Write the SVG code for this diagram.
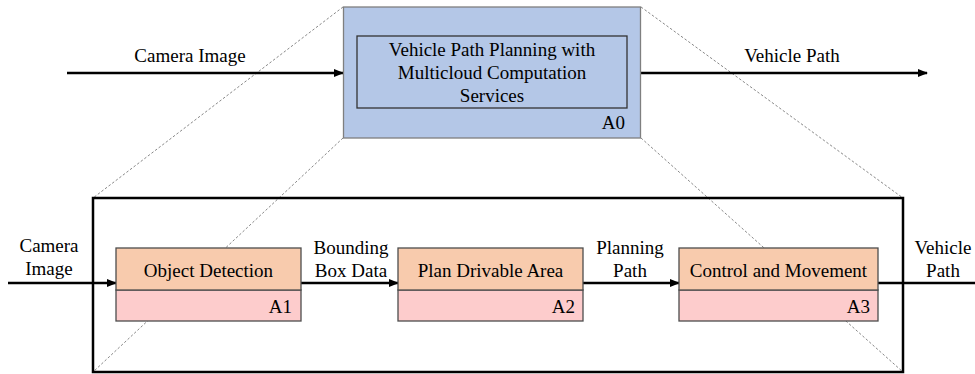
<svg xmlns="http://www.w3.org/2000/svg" width="975" height="374" viewBox="0 0 975 374" font-family="'Liberation Serif', 'DejaVu Serif', serif">
<defs>
<marker id="ah" markerWidth="10" markerHeight="8" refX="9" refY="4" orient="auto" markerUnits="userSpaceOnUse">
<path d="M0,0 L10,4 L0,8 Z" fill="#000"/>
</marker>
<style>
text{font-family:'Liberation Serif','DejaVu Serif',serif;font-size:19px;fill:#000}
.mid{text-anchor:middle}
.end{text-anchor:end}
.dash{stroke:#7a7a7a;stroke-width:0.9;stroke-dasharray:2.5,2;fill:none}
.conn{stroke:#000;stroke-width:2.5;fill:none}
.top{fill:#F8CBAD;stroke:#4d4d4d;stroke-width:1.3}
.bot{fill:#FDCCCC;stroke:#4d4d4d;stroke-width:1.3}
</style>
</defs>
<rect width="975" height="374" fill="#fff"/>
<g id="zoom-lines">
<line class="dash" x1="343" y1="7" x2="93" y2="198"/>
<line class="dash" x1="343" y1="138" x2="93" y2="372"/>
<line class="dash" x1="641" y1="7" x2="903" y2="198"/>
<line class="dash" x1="641" y1="138" x2="903" y2="372"/>
</g>
<g id="decomposition-frame">
<rect x="93" y="198" width="810" height="174" fill="none" stroke="#000" stroke-width="2.5"/>
</g>
<g id="connectors">
<line class="conn" x1="67" y1="73" x2="343" y2="73" marker-end="url(#ah)"/>
<line class="conn" x1="641" y1="73" x2="927" y2="73" marker-end="url(#ah)"/>
<line class="conn" x1="8" y1="283" x2="116" y2="283" marker-end="url(#ah)"/>
<line class="conn" x1="301" y1="283" x2="398" y2="283" marker-end="url(#ah)"/>
<line class="conn" x1="583" y1="283" x2="679" y2="283" marker-end="url(#ah)"/>
<line class="conn" x1="878" y1="283" x2="975" y2="283"/>
</g>
<g id="labels">
<text class="mid" x="190" y="62">Camera Image</text>
<text class="mid" x="792" y="62">Vehicle Path</text>
<text class="mid" x="49" y="252">Camera</text>
<text class="mid" x="49" y="275">Image</text>
<text class="mid" x="351" y="254">Bounding</text>
<text class="mid" x="351" y="277">Box Data</text>
<text class="mid" x="630" y="254">Planning</text>
<text class="mid" x="630" y="277">Path</text>
<text class="mid" x="943" y="254">Vehicle</text>
<text class="mid" x="943" y="277">Path</text>
</g>
<g id="A0">
<rect x="343.5" y="7" width="297" height="131" fill="#B4C7E7" stroke="#7f7f7f" stroke-width="1.3"/>
<rect x="357" y="36" width="270" height="72" fill="none" stroke="#333" stroke-width="1.3"/>
<text class="mid" x="492" y="56">Vehicle Path Planning with</text>
<text class="mid" x="492" y="79">Multicloud Computation</text>
<text class="mid" x="492" y="102">Services</text>
<text class="end" x="625" y="129">A0</text>
</g>
<g id="A1">
<rect class="bot" x="116" y="290" width="185" height="31"/>
<rect class="top" x="116" y="248" width="185" height="42"/>
<text class="mid" x="208.5" y="277">Object Detection</text>
<text class="end" x="292" y="313">A1</text>
</g>
<g id="A2">
<rect class="bot" x="398" y="290" width="185" height="31"/>
<rect class="top" x="398" y="248" width="185" height="42"/>
<text class="mid" x="490.5" y="277">Plan Drivable Area</text>
<text class="end" x="575" y="313">A2</text>
</g>
<g id="A3">
<rect class="bot" x="679" y="290" width="199" height="31"/>
<rect class="top" x="679" y="248" width="199" height="42"/>
<text class="mid" x="778.5" y="277">Control and Movement</text>
<text class="end" x="870" y="313">A3</text>
</g>
</svg>
